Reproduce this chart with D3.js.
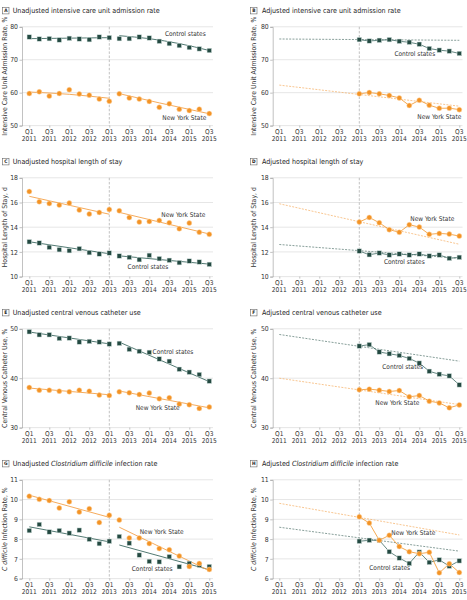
<!DOCTYPE html>
<html><head><meta charset="utf-8">
<script src="https://cdn.jsdelivr.net/npm/d3@7"></script>
<style>
body{margin:0;background:#fff}
svg text{font-family:"Liberation Sans Narrow","DejaVu Sans Condensed","Open Sans",sans-serif}
</style>
</head><body>
<svg id="chart" width="467" height="600"></svg>
<script>
// ---------- shared labels ----------
const quarters = ["Q1 2011","Q2 2011","Q3 2011","Q4 2011","Q1 2012","Q2 2012","Q3 2012","Q4 2012",
  "Q1 2013","Q2 2013","Q3 2013","Q4 2013","Q1 2014","Q2 2014","Q3 2014","Q4 2014","Q1 2015","Q2 2015","Q3 2015"];
const tickIndex = [0,2,4,6,8,10,12,14,16,18];
const tickQuarter = ["Q1","Q3","Q1","Q3","Q1","Q3","Q1","Q3","Q1","Q3"];
const tickYear = ["2011","2011","2012","2012","2013","2013","2014","2014","2015","2015"];
const policyIndex = 8;          // Q1 2013
const adjustedStart = 8;        // adjusted series begin at Q1 2013
const seriesNames = ["Control states","New York State"];

// ---------- A: unadjusted ICU admission ----------
const aControl = [76.9,76.3,76.4,76.0,76.5,76.3,76.1,76.9,76.7, 76.4,76.4,76.9,76.6,75.6,74.9,74.3,73.7,73.3,72.8];
const aNY      = [59.75,60.25,58.95,59.75,60.9,59.6,59.25,58.05,57.4, 59.65,58.35,58.05,57.35,55.55,56.6,55.0,54.55,55.0,53.65];
const aControlTrend = [[[0,76.4],[8,76.7]], [[9,77.3],[12,76.4],[15,74.9],[18,72.8]]];
const aNYTrend      = [[[0,60.2],[4,59.5],[8,58.3]], [[9,59.7],[13,56.9],[18,53.6]]];
// ---------- B: adjusted ICU admission ----------
const bControl = [76.1,75.7,75.9,76.1,75.6,75.3,74.7,73.4,72.9,72.6,71.9];
const bNY      = [59.65,60.05,59.65,59.15,58.4,56.1,57.7,56.2,55.25,55.3,54.85];
const bControlCF = [[0,76.3],[18,75.9]];
const bNYCF      = [[0,62.3],[18,55.9]];
// ---------- C: unadjusted length of stay ----------
const cControl = [12.82,12.72,12.37,12.18,12.10,12.26,11.94,11.83,11.91, 11.67,11.56,11.37,11.72,11.45,11.32,11.13,11.26,11.18,10.99];
const cNY      = [16.89,16.06,15.92,15.79,15.95,15.39,15.07,15.20,15.44, 15.33,14.79,14.42,14.47,14.55,14.36,13.87,14.33,13.60,13.42];
const cControlTrend = [[[0,12.82],[8,11.85]], [[9,11.68],[18,11.01]]];
const cNYTrend      = [[[0,16.5],[8,15.05]], [[9,15.2],[18,13.45]]];
// ---------- D: adjusted length of stay ----------
const dControl = [12.07,11.77,11.91,11.75,11.83,11.75,11.83,11.67,11.75,11.48,11.56];
const dNY      = [14.42,14.79,14.36,13.80,13.59,14.20,14.01,13.42,13.50,13.44,13.28];
const dControlCF = [[0,12.6],[18,11.48]];
const dNYCF      = [[0,15.9],[18,12.62]];
// ---------- E: unadjusted CVC use ----------
const eControl = [49.40,48.79,48.79,48.05,48.12,47.32,47.45,47.32,46.91, 47.05,45.84,45.44,45.23,43.89,43.42,41.81,41.21,40.74,39.40];
const eNY      = [38.12,37.58,37.58,37.38,37.25,37.58,37.38,36.58,36.51, 37.25,37.05,36.71,36.98,35.84,36.04,34.77,34.63,33.89,34.16];
const eControlTrend = [[[0,49.35],[8,46.95]], [[9,47.3],[18,39.3]]];
const eNYTrend      = [[[0,38.0],[8,36.65]], [[9,37.4],[18,34.0]]];
// ---------- F: adjusted CVC use ----------
const fControl = [46.5,46.8,45.3,44.95,44.6,44.0,43.05,41.4,40.8,40.47,38.65];
const fNY      = [37.65,37.78,37.58,37.31,37.51,36.23,36.5,35.35,35.0,34.0,34.6];
const fControlCF = [[0,48.85],[18,43.45]];
const fNYCF      = [[0,40.0],[18,34.66]];
// ---------- G: unadjusted C difficile ----------
const gControl = [8.43,8.74,8.36,8.43,8.30,8.45,7.99,7.77,7.89, 8.13,7.79,7.19,6.87,6.85,7.11,6.60,6.77,6.68,6.61];
const gNY      = [10.17,10.01,9.95,9.57,9.89,9.37,9.54,8.84,9.21, 8.96,8.06,8.06,7.77,7.52,7.46,7.14,6.61,6.77,6.46];
const gControlTrend = [[[0,8.62],[8,7.86]], [[9,7.7],[18,6.45]]];
const gNYTrend      = [[[0,10.22],[8,9.1]], [[9,8.6],[18,6.4]]];
// ---------- H: adjusted C difficile ----------
const hControl = [7.89,7.94,7.94,7.36,7.04,6.77,7.34,6.82,6.95,6.63,6.90];
const hNY      = [9.13,8.81,7.94,8.19,7.62,7.36,7.26,7.33,6.29,6.75,6.31];
const hControlCF = [[0,8.6],[18,7.39]];
const hNYCF      = [[0,9.81],[18,8.21]];

// ---------- y axis ticks ----------
const icuTicks = [50,60,70,80];
const losTicks = [10,12,14,16,18];
const cvcTicks = [30,40,50];
const cdiTicks = [6,7,8,9,10,11];

// ---------- panel definitions ----------
const panels = [
 {letter:"A", title:[["Unadjusted intensive care unit admission rate",false]], yTitle:[["Intensive Care Unit Admission Rate, %",false]],
  ticks:icuTicks, type:"unadj", control:aControl, ny:aNY, controlTrend:aControlTrend, nyTrend:aNYTrend,
  labels:[[15.6,77.7],[15.5,52.2]], col:0,row:0},
 {letter:"B", title:[["Adjusted intensive care unit admission rate",false]], yTitle:[["Intensive Care Unit Admission Rate, %",false]],
  ticks:icuTicks, type:"adj", control:bControl, ny:bNY, controlCF:bControlCF, nyCF:bNYCF,
  labels:[[13.55,71.6],[16.0,52.5]], col:1,row:0},
 {letter:"C", title:[["Unadjusted hospital length of stay",false]], yTitle:[["Hospital Length of Stay, d",false]],
  ticks:losTicks, type:"unadj", control:cControl, ny:cNY, controlTrend:cControlTrend, nyTrend:cNYTrend,
  labels:[[11.87,10.75],[15.4,14.93]], col:0,row:1},
 {letter:"D", title:[["Adjusted hospital length of stay",false]], yTitle:[["Hospital Length of Stay, d",false]],
  ticks:losTicks, type:"adj", control:dControl, ny:dNY, controlCF:dControlCF, nyCF:dNYCF,
  labels:[[12.5,11.13],[15.3,14.63]], col:1,row:1},
 {letter:"E", title:[["Unadjusted central venous catheter use",false]], yTitle:[["Central Venous Catheter Use, %",false]],
  ticks:cvcTicks, type:"unadj", control:eControl, ny:eNY, controlTrend:eControlTrend, nyTrend:eNYTrend,
  labels:[[14.37,45.3],[12.84,33.83]], col:0,row:2},
 {letter:"F", title:[["Adjusted central venous catheter use",false]], yTitle:[["Central Venous Catheter Use, %",false]],
  ticks:cvcTicks, type:"adj", control:fControl, ny:fNY, controlCF:fControlCF, nyCF:fNYCF,
  labels:[[12.34,42.15],[11.8,34.84]], col:1,row:2},
 {letter:"G", title:[["Unadjusted ",false],["Clostridium difficile",true],[" infection rate",false]], yTitle:[["C difficile",true],[" Infection Rate, %",false]],
  ticks:cdiTicks, type:"unadj", control:gControl, ny:gNY, controlTrend:gControlTrend, nyTrend:gNYTrend,
  labels:[[12.29,6.46],[13.24,8.36]], col:0,row:3},
 {letter:"H", title:[["Adjusted ",false],["Clostridium difficile",true],[" infection rate",false]], yTitle:[["C difficile",true],[" Infection Rate, %",false]],
  ticks:cdiTicks, type:"adj", control:hControl, ny:hNY, controlCF:hControlCF, nyCF:hNYCF,
  labels:[[11.04,6.51],[13.4,8.28]], col:1,row:3}
];

// ---------- layout / style ----------
const colLayout = [
  {axis:22, x0:29.3, x1:209.3, right:213, yTitleX:4.6, boxX:2.6, titleX:12.7},
  {axis:272.7, x0:279.3, x1:459.3, right:462.5, yTitleX:253.6, boxX:250.6, titleX:262}
];
const rowTop = 26.8, rowStep = 151, plotH = 98.8;
const GREEN = "#244a42", GREEN_LINE = "#3d6a62", ORANGE = "#f39325", ORANGE_LINE = "#f4a14a";
const svg = d3.select("#chart");

panels.forEach(p => {
  const L = colLayout[p.col];
  const top = rowTop + rowStep*p.row, bottom = top + plotH;
  const x = d3.scaleLinear().domain([0, quarters.length-1]).range([L.x0, L.x1]);
  const y = d3.scaleLinear().domain(d3.extent(p.ticks)).range([bottom, top]);
  const g = svg.append("g");

  // panel letter + title
  const ty = top - 16.1;
  g.append("rect").attr("x",L.boxX).attr("y",ty-3.4).attr("width",6.4).attr("height",6.6)
    .attr("fill","#fff").attr("stroke","#666").attr("stroke-width",0.6);
  g.append("text").attr("x",L.boxX+3.2).attr("y",ty+0.3).attr("text-anchor","middle").attr("dominant-baseline","middle")
    .attr("font-size",4.8).attr("font-weight","bold").attr("fill","#222").text(p.letter);
  const tt = g.append("text").attr("x",L.titleX).attr("y",ty).attr("dominant-baseline","middle")
    .attr("font-size",7.1).attr("fill","#222");
  p.title.forEach(([s,it]) => tt.append("tspan").attr("font-style", it?"italic":"normal").text(s));

  // gridlines
  g.selectAll(".grid").data(p.ticks).join("line")
    .attr("x1",L.axis).attr("x2",L.right).attr("y1",d=>y(d)).attr("y2",d=>y(d))
    .attr("stroke","#e3e3e3").attr("stroke-width",0.9);

  // y axis
  const yAxis = g.append("g").attr("transform",`translate(${L.axis},0)`)
    .call(d3.axisLeft(y).tickValues(p.ticks).tickSize(2.5).tickPadding(1.5).tickFormat(d3.format("d")));
  yAxis.select(".domain").attr("stroke","#999").attr("stroke-width",0.6);
  yAxis.selectAll(".tick line").attr("stroke","#999").attr("stroke-width",0.6);
  yAxis.selectAll("text").attr("font-size",6.8).attr("fill","#333");

  // x axis
  const xAxis = g.append("g").attr("transform",`translate(0,${bottom})`)
    .call(d3.axisBottom(x).tickValues(tickIndex).tickSize(2).tickFormat(""));
  xAxis.select(".domain").remove();
  xAxis.selectAll(".tick line").attr("stroke","#999").attr("stroke-width",0.6);
  const xt = g.selectAll(".xl").data(tickIndex).join("text")
    .attr("x",d=>x(d)).attr("y",bottom+8.3).attr("text-anchor","middle")
    .attr("font-size",6.6).attr("fill","#333");
  xt.append("tspan").attr("x",d=>x(d)).text((d,i)=>tickQuarter[i]);
  xt.append("tspan").attr("x",d=>x(d)).attr("dy",7.2).text((d,i)=>tickYear[i]);

  // y title
  const yt = g.append("text").attr("transform",`translate(${L.yTitleX},${(top+bottom)/2}) rotate(-90)`)
    .attr("text-anchor","middle").attr("dominant-baseline","middle").attr("font-size",6.9).attr("fill","#333");
  p.yTitle.forEach(([s,it]) => yt.append("tspan").attr("font-style", it?"italic":"normal").text(s));

  // policy line
  g.append("line").attr("x1",x(policyIndex)).attr("x2",x(policyIndex)).attr("y1",top).attr("y2",bottom)
    .attr("stroke","#a8a8a8").attr("stroke-width",0.7).attr("stroke-dasharray","2.5,1.6");

  const line = d3.line().x(d=>x(d[0])).y(d=>y(d[1]));
  const curve = d3.line().x(d=>x(d[0])).y(d=>y(d[1])).curve(d3.curveMonotoneX);

  let ctrlPts, nyPts;
  if (p.type === "unadj") {
    p.controlTrend.forEach(seg => g.append("path").attr("d",curve(seg)).attr("fill","none")
      .attr("stroke",GREEN_LINE).attr("stroke-width",0.9));
    p.nyTrend.forEach(seg => g.append("path").attr("d",curve(seg)).attr("fill","none")
      .attr("stroke",ORANGE_LINE).attr("stroke-width",0.9));
    ctrlPts = p.control.map((v,i)=>[i,v]);
    nyPts = p.ny.map((v,i)=>[i,v]);
  } else {
    g.append("path").attr("d",line(p.controlCF)).attr("fill","none")
      .attr("stroke","#55766f").attr("stroke-width",0.7).attr("stroke-dasharray","2,1.3");
    g.append("path").attr("d",line(p.nyCF)).attr("fill","none")
      .attr("stroke","#f5ad62").attr("stroke-width",0.7).attr("stroke-dasharray","2,1.3");
    ctrlPts = p.control.map((v,i)=>[i+adjustedStart,v]);
    nyPts = p.ny.map((v,i)=>[i+adjustedStart,v]);
    g.append("path").attr("d",line(ctrlPts)).attr("fill","none").attr("stroke",GREEN_LINE).attr("stroke-width",0.8);
    g.append("path").attr("d",line(nyPts)).attr("fill","none").attr("stroke",ORANGE).attr("stroke-width",0.8);
  }
  const s = 4.5;
  g.selectAll(".sq").data(ctrlPts).join("rect")
    .attr("x",d=>x(d[0])-s/2).attr("y",d=>y(d[1])-s/2).attr("width",s).attr("height",s)
    .attr("fill",GREEN).attr("stroke","#d6e3e0").attr("stroke-width",0.5);
  g.selectAll(".ci").data(nyPts).join("circle")
    .attr("cx",d=>x(d[0])).attr("cy",d=>y(d[1])).attr("r",2.5)
    .attr("fill",ORANGE).attr("stroke","#fcd9ae").attr("stroke-width",0.5);

  // series labels
  p.labels.forEach((lb,i) => g.append("text").attr("x",x(lb[0])).attr("y",y(lb[1]))
    .attr("text-anchor","middle").attr("dominant-baseline","middle").attr("font-size",6.5).attr("fill","#333")
    .text(seriesNames[i]));
});
</script>
</body></html>
